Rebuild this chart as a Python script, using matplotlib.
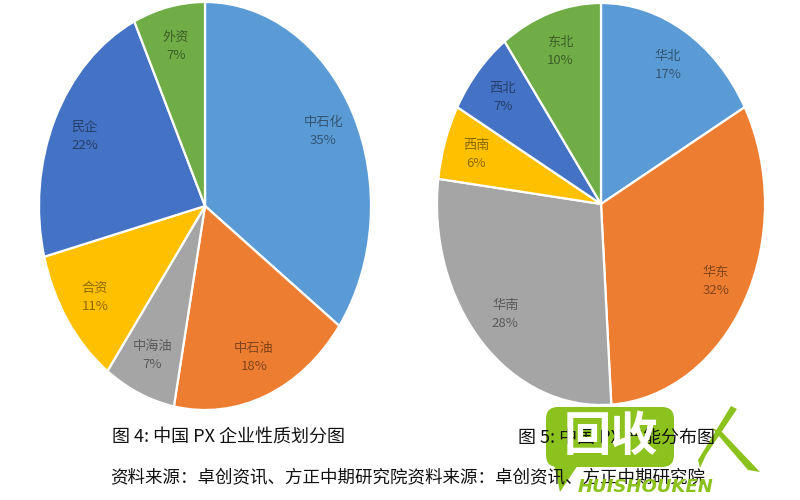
import matplotlib
matplotlib.use("Agg")
import matplotlib.pyplot as plt
import numpy as np
from matplotlib.patches import FancyBboxPatch, Polygon
from matplotlib.colors import to_rgb

plt.rcParams['font.family'] = ['Noto Sans CJK SC', 'DejaVu Sans']

# ---- data ----
left_labels = ["中石化", "中石油", "中海油", "合资", "民企", "外资"]
left_values = [35, 18, 7, 11, 22, 7]
right_labels = ["华北", "华东", "华南", "西南", "西北", "东北"]
right_values = [17, 32, 28, 6, 7, 10]
colors = ["#5B9BD5", "#ED7D31", "#A5A5A5", "#FFC000", "#4472C4", "#70AD47"]
caption_left = "图 4: 中国 PX 企业性质划分图"
caption_right = "图 5: 中国 PX 产能分布图"
source_line = "资料来源：卓创资讯、方正中期研究院资料来源：卓创资讯、方正中期研究院"

W, H = 800, 500
fig = plt.figure(figsize=(8, 5), dpi=100)
fig.patch.set_facecolor("white")


def dark(c, f=0.55):
    r, g, b = to_rgb(c)
    return (r * f, g * f, b * f)


def draw_pie(cx, cy, rx, ry, labels, values):
    ax = fig.add_axes([(cx - rx) / W, (H - (cy + ry)) / H, 2 * rx / W, 2 * ry / H])
    wedges, _ = ax.pie(values, colors=colors, startangle=90, counterclock=False,
                       radius=1.0,
                       wedgeprops=dict(edgecolor="white", linewidth=1.6))
    ax.set_aspect("auto")
    ax.set_xlim(-1, 1)
    ax.set_ylim(-1, 1)
    ax.axis("off")
    for w, lab, val, c in zip(wedges, labels, values, colors):
        mid = np.deg2rad((w.theta1 + w.theta2) / 2)
        x, y = 0.80 * np.cos(mid), 0.80 * np.sin(mid)
        ax.text(x, y, f"{lab}\n{val}%", ha="center", va="center",
                fontsize=9.5, color=dark(c), linespacing=1.5)
    return ax


draw_pie(205, 206, 166, 204, left_labels, left_values)
draw_pie(601, 204, 164, 201, right_labels, right_values)

# overlay for captions and watermark
ov = fig.add_axes([0, 0, 1, 1], zorder=10)
ov.set_xlim(0, W)
ov.set_ylim(H, 0)
ov.axis("off")
ov.patch.set_alpha(0)

ov.text(112, 438, caption_left, fontsize=13, ha="left", va="center", color="#111111")
ov.text(518, 438, caption_right, fontsize=13, ha="left", va="center", color="#111111")
ov.text(110, 477, source_line, fontsize=12.6, ha="left", va="center", color="#111111")

# watermark
green = "#8CC21E"
box = FancyBboxPatch((546, 407), 128, 60, boxstyle="round,pad=0,rounding_size=12",
                     facecolor=green, edgecolor="none")
ov.add_patch(box)
ov.add_patch(Polygon([[552, 455], [580, 462], [560, 492]], closed=True,
                     facecolor=green, edgecolor="none"))
ov.text(611, 437, "回收", fontsize=34, fontweight="bold", color="white",
        ha="center", va="center")
ov.text(646, 487, "HUISHOUKEN", fontsize=13, fontweight="bold", fontstyle="italic",
        color=green, ha="center", va="center", family="DejaVu Sans")
ov.add_patch(Polygon([[731, 406], [737, 409], [706, 455], [700, 468], [698, 460]],
                     closed=True, facecolor=green, edgecolor="none"))
ov.add_patch(Polygon([[712, 428], [722, 432], [760, 472], [748, 470]],
                     closed=True, facecolor=green, edgecolor="none"))

fig.savefig("out.png", dpi=100, facecolor="white")
